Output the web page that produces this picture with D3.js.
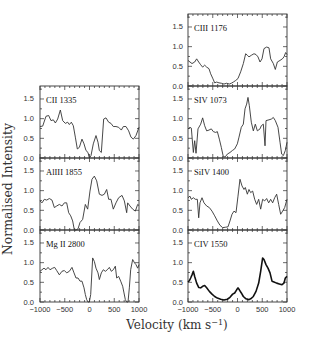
<!DOCTYPE html>
<html>
<head>
<meta charset="utf-8">
<script src="https://cdn.jsdelivr.net/npm/d3@7"></script>
<style>
  body { margin: 0; background: #fff; }
  svg { display: block; }
  .tick-lab { font-family: "Liberation Sans", Arial, sans-serif; font-size: 7.5px; fill: #333; }
  .ion { font-family: "Liberation Serif", serif; font-size: 8.5px; fill: #111; }
  .title { font-family: "DejaVu Serif", serif; font-size: 12px; fill: #333; }
</style>
</head>
<body>
<svg id="chart" width="309" height="340"></svg>
<script>
/** ------------- DATA (velocity km/s, normalised intensity) -------------- */

const ciiVel = [-1000, -946, -879, -825, -778, -731, -690, -643, -589, -542, -488, -441, -407, -367, -327, -286, -246, -205, -152, -111, -71, -30, -3, 30, 77, 131, 172, 199, 239, 286, 333, 387, 434, 481, 535, 589, 643, 684, 737, 791, 838, 886, 939, 1000];
const ciiInt = [0.80, 0.81, 1.06, 1.08, 0.95, 0.97, 0.89, 0.99, 1.22, 0.95, 0.88, 0.91, 0.85, 0.91, 0.82, 0.53, 0.23, 0.27, 0.48, 0.36, 0.19, 0.14, 0.0, 0.06, 0.36, 0.57, 0.40, 0.19, 0.14, 0.99, 1.02, 0.91, 0.88, 0.80, 0.80, 0.78, 0.71, 0.80, 0.80, 0.69, 0.53, 0.48, 0.57, 0.78];

const aliiiVel = [-1000, -960, -912, -865, -811, -758, -710, -663, -609, -556, -508, -461, -421, -380, -340, -306, -273, -232, -192, -138, -84, -37, 10, 50, 98, 145, 199, 253, 300, 347, 387, 434, 481, 535, 589, 657, 704, 751, 771, 818, 872, 926, 973, 1000];
const aliiiInt = [0.74, 0.69, 0.78, 0.76, 0.80, 0.76, 0.57, 0.61, 0.65, 0.61, 0.69, 0.69, 0.44, 0.36, 0.23, 0.0, 0.0, 0.03, 0.19, 0.27, 0.65, 0.53, 0.99, 1.29, 1.37, 1.25, 0.91, 0.88, 0.91, 1.03, 0.78, 0.78, 0.53, 0.69, 0.82, 0.88, 0.74, 0.44, 0.69, 0.61, 0.53, 0.48, 0.65, 0.62];

const mgiiVel = [-1000, -960, -919, -879, -838, -798, -744, -704, -663, -609, -556, -508, -461, -407, -354, -313, -273, -232, -192, -152, -111, -84, -57, -30, -3, 24, 64, 98, 131, 172, 199, 239, 279, 320, 360, 401, 441, 481, 522, 549, 589, 630, 670, 697, 724, 751, 778, 805, 832, 872, 912, 939, 973, 1000];
const mgiiInt = [0.78, 0.82, 0.86, 0.82, 0.88, 0.82, 0.86, 0.88, 0.80, 0.69, 0.78, 0.80, 0.74, 0.78, 0.88, 0.74, 0.61, 0.61, 0.53, 0.53, 0.36, 0.19, 0.06, 0.0, 0.0, 0.19, 1.12, 1.03, 0.86, 0.74, 0.57, 0.74, 0.82, 0.78, 0.82, 0.88, 0.78, 0.82, 0.91, 0.61, 0.65, 0.53, 0.40, 0.23, 0.06, 0.0, 0.0, 0.36, 0.82, 1.08, 0.99, 0.95, 0.86, 0.95];

const ciiiVel = [-1000, -960, -919, -865, -825, -784, -744, -704, -663, -623, -576, -542, -502, -461, -421, -374, -327, -273, -219, -165, -125, -84, -37, 10, 64, 118, 165, 199, 232, 279, 333, 374, 414, 455, 495, 535, 589, 636, 670, 724, 764, 805, 859, 906, 939, 973, 1000];
const ciiiInt = [0.65, 0.61, 0.57, 0.61, 0.69, 0.61, 0.54, 0.48, 0.53, 0.48, 0.44, 0.31, 0.20, 0.08, 0.10, 0.08, 0.07, 0.05, 0.07, 0.05, 0.07, 0.10, 0.14, 0.19, 0.36, 0.57, 0.82, 0.78, 0.74, 0.78, 0.82, 0.80, 0.74, 0.61, 0.69, 0.95, 0.99, 0.97, 0.69, 0.57, 0.42, 0.61, 0.65, 0.69, 0.74, 0.85, 0.80];

const siiv1073Vel = [-1000, -960, -933, -892, -865, -838, -798, -744, -704, -663, -623, -576, -529, -488, -441, -407, -367, -327, -286, -246, -205, -152, -104, -57, -3, 30, 77, 118, 152, 185, 212, 239, 279, 320, 360, 401, 455, 481, 522, 556, 576, 636, 684, 724, 764, 818, 859, 892, 926, 966, 1000];
const siiv1073Int = [0.74, 0.78, 0.76, 0.14, 0.44, 0.12, 0.74, 0.86, 1.02, 0.82, 0.69, 0.71, 0.74, 0.67, 0.65, 0.67, 0.48, 0.27, 0.03, 0.03, 0.10, 0.14, 0.19, 0.23, 0.36, 0.53, 0.78, 0.86, 1.25, 1.37, 1.54, 1.33, 0.91, 0.69, 0.86, 0.69, 0.74, 0.82, 0.86, 0.31, 0.95, 0.97, 0.99, 1.03, 0.95, 0.78, 0.40, 0.10, 0.06, 0.19, 0.40];

const siiv1400Vel = [-1000, -960, -933, -892, -852, -811, -784, -758, -717, -677, -623, -569, -515, -461, -407, -354, -300, -246, -192, -152, -111, -71, -30, 10, 50, 91, 131, 158, 199, 232, 266, 306, 347, 387, 428, 468, 508, 549, 589, 630, 670, 710, 751, 791, 832, 872, 912, 953, 1000];
const siiv1400Int = [0.82, 0.86, 0.78, 0.82, 0.78, 0.78, 0.31, 0.69, 0.82, 0.69, 0.61, 0.57, 0.48, 0.36, 0.23, 0.12, 0.06, 0.07, 0.08, 0.23, 0.40, 0.48, 0.44, 0.86, 1.29, 1.12, 1.03, 1.08, 0.91, 1.03, 0.95, 0.99, 0.78, 0.65, 0.78, 0.53, 0.78, 0.74, 0.80, 0.69, 0.78, 0.69, 0.82, 0.91, 0.65, 0.40, 0.48, 0.57, 0.78];

const civVel = [-1000, -973, -946, -919, -892, -865, -825, -784, -744, -704, -663, -623, -569, -515, -461, -407, -340, -273, -205, -152, -98, -57, -17, 10, 37, 77, 118, 172, 226, 266, 320, 374, 428, 468, 508, 535, 576, 616, 657, 697, 737, 791, 845, 899, 939, 966, 1000];
const civInt = [0.51, 0.54, 0.61, 0.69, 0.78, 0.65, 0.48, 0.37, 0.36, 0.40, 0.42, 0.36, 0.27, 0.20, 0.14, 0.10, 0.07, 0.05, 0.07, 0.12, 0.20, 0.23, 0.31, 0.36, 0.31, 0.23, 0.14, 0.08, 0.06, 0.08, 0.14, 0.27, 0.48, 0.78, 1.12, 1.08, 0.95, 0.86, 0.74, 0.53, 0.51, 0.48, 0.46, 0.44, 0.48, 0.61, 0.65];

const xTickLabels = ["\u22121000", "\u2212500", "0", "500", "1000"];
const yTickLabels = ["0.0", "0.5", "1.0", "1.5"];

/** panel list: column 0 = left, 1 = right; row from the top of the figure */
const panels = [
    { name: "CIII 1176", col: 1, row: 0, vel: ciiiVel, val: ciiiInt },
    { name: "CII 1335", col: 0, row: 1, vel: ciiVel, val: ciiInt },
    { name: "SIV 1073", col: 1, row: 1, vel: siiv1073Vel, val: siiv1073Int },
    { name: "AlIII 1855", col: 0, row: 2, vel: aliiiVel, val: aliiiInt },
    { name: "SiIV 1400", col: 1, row: 2, vel: siiv1400Vel, val: siiv1400Int },
    { name: "Mg II 2800", col: 0, row: 3, vel: mgiiVel, val: mgiiInt },
    { name: "CIV 1550", col: 1, row: 3, vel: civVel, val: civInt, thick: true },
];

/** ------------- LAYOUT -------------- */

const svg = d3.select("#chart");
const colLeft = [40, 188];
const panelW = 99;
const panelH = 72;
const top0 = 14;

const x = d3.scaleLinear().domain([-1000, 1000]).range([0, panelW]);
const y = d3.scaleLinear().domain([0, 1.83]).range([panelH, 0]);

const line = d3.line()
    .x((d) => x(d[0]))
    .y((d) => y(d[1]));

panels.forEach((p) => {
    const g = svg.append("g")
        .attr("transform", `translate(${colLeft[p.col]},${top0 + p.row * panelH})`);

    // inward ticks on all four sides
    const minorX = d3.range(-1000, 1001, 100);
    const minorY = d3.range(0, 1.81, 0.25);
    const tickStroke = "#444";
    minorX.forEach((v) => {
        const len = v % 500 === 0 ? 4 : 2;
        g.append("line").attr("x1", x(v)).attr("x2", x(v))
            .attr("y1", panelH).attr("y2", panelH - len)
            .attr("stroke", tickStroke).attr("stroke-width", 0.8);
        g.append("line").attr("x1", x(v)).attr("x2", x(v))
            .attr("y1", 0).attr("y2", len)
            .attr("stroke", tickStroke).attr("stroke-width", 0.8);
    });
    minorY.forEach((v) => {
        const len = Math.abs(v * 2 - Math.round(v * 2)) < 1e-6 ? 4 : 2;
        g.append("line").attr("x1", 0).attr("x2", len)
            .attr("y1", y(v)).attr("y2", y(v))
            .attr("stroke", tickStroke).attr("stroke-width", 0.8);
        g.append("line").attr("x1", panelW).attr("x2", panelW - len)
            .attr("y1", y(v)).attr("y2", y(v))
            .attr("stroke", tickStroke).attr("stroke-width", 0.8);
    });

    // frame
    g.append("rect")
        .attr("width", panelW).attr("height", panelH)
        .attr("fill", "none").attr("stroke", "#333").attr("stroke-width", 0.9);

    // y tick labels
    yTickLabels.forEach((t) => {
        g.append("text").attr("class", "tick-lab")
            .attr("x", p.col === 0 ? -6 : -5).attr("y", y(+t) + 2.5)
            .attr("text-anchor", "end").text(t);
    });

    // ion label
    g.append("text").attr("class", "ion")
        .attr("x", 6).attr("y", 17).text(p.name);

    // spectrum
    g.append("path")
        .datum(d3.zip(p.vel, p.val))
        .attr("d", line)
        .attr("fill", "none")
        .attr("stroke", p.thick ? "#111" : "#333")
        .attr("stroke-width", p.thick ? 1.6 : 0.9)
        .attr("stroke-linejoin", "round");

    // bottom row x tick labels
    if (p.row === 3) {
        xTickLabels.forEach((t, i) => {
            g.append("text").attr("class", "tick-lab")
                .attr("x", x(-1000 + i * 500)).attr("y", panelH + 10)
                .attr("text-anchor", "middle").text(t);
        });
    }
});

/** ------------- AXIS TITLES -------------- */

const xt = svg.append("text").attr("class", "title")
    .attr("x", 177).attr("y", 329).attr("text-anchor", "middle");
xt.append("tspan").text("Velocity (km s");
xt.append("tspan").attr("dy", -4.5).attr("font-size", "8px").text("\u22121");
xt.append("tspan").attr("dy", 4.5).text(")");

svg.append("text").attr("class", "title")
    .attr("transform", "translate(12,189) rotate(-90)")
    .attr("text-anchor", "middle")
    .attr("textLength", 132)
    .attr("lengthAdjust", "spacingAndGlyphs")
    .text("Normalised Intensity");
</script>
</body>
</html>
